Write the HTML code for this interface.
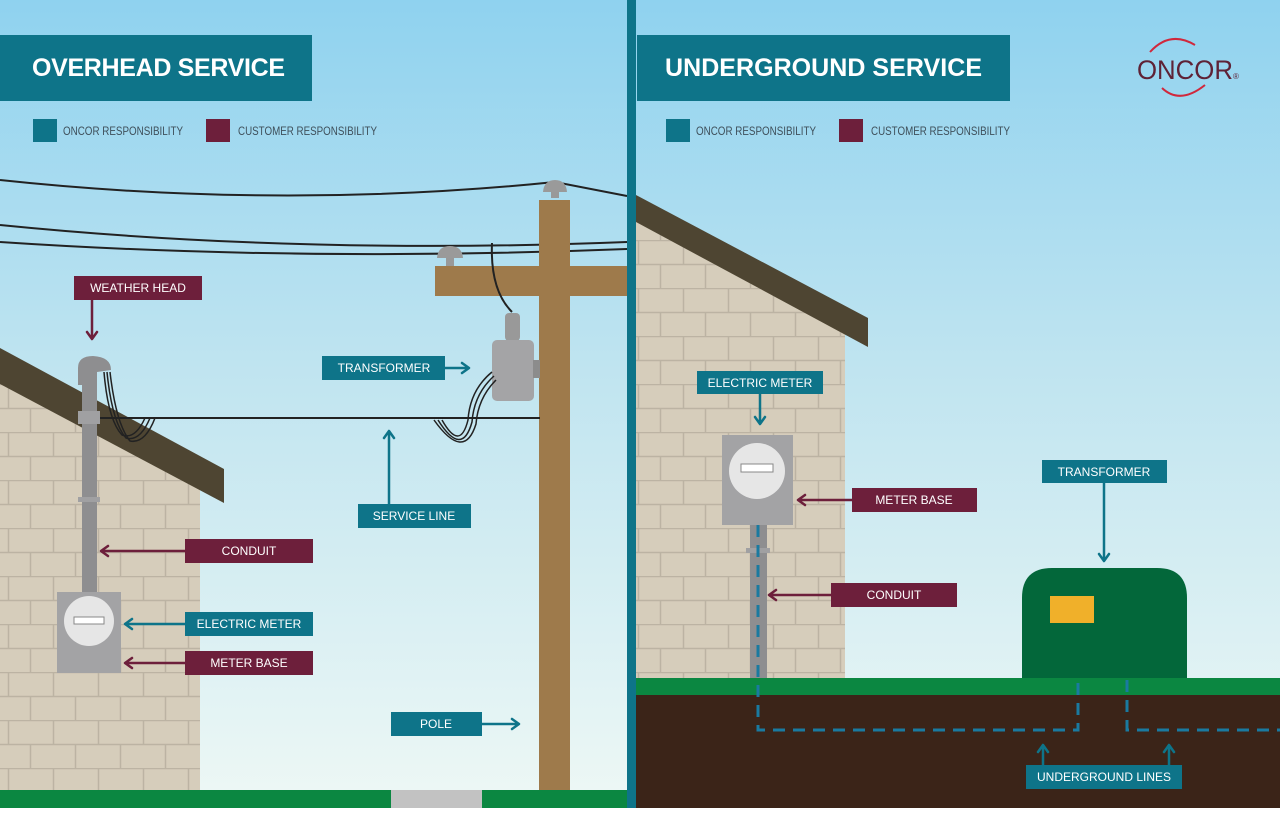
<!DOCTYPE html>
<html><head><meta charset="utf-8"><style>
html,body{margin:0;padding:0;background:#fff}
svg{display:block}
text{font-family:"Liberation Sans",sans-serif}
</style></head><body>
<svg width="1280" height="814" viewBox="0 0 1280 814" xmlns="http://www.w3.org/2000/svg">
<defs>
<linearGradient id="sky" x1="0" y1="0" x2="0" y2="1">
<stop offset="0" stop-color="#8fd2ef"/><stop offset="0.45" stop-color="#bfe4f0"/><stop offset="1" stop-color="#eef8f5"/>
</linearGradient>
<pattern id="brick" width="90" height="48" patternUnits="userSpaceOnUse" x="0" y="0">
<rect width="90" height="48" fill="#d6cdbb"/>
<path d="M0 0.5H90M0 24.5H90M8.5 0V24M53.5 0V24M30.5 24V48M75.5 24V48" stroke="#bcb3a3" stroke-width="1.5" fill="none"/>
</pattern>
</defs>
<rect width="1280" height="814" fill="#fff"/>
<rect width="1280" height="808" fill="url(#sky)"/>

<!-- LEFT -->
<polygon points="0,380 200,488 200,790 0,790" fill="url(#brick)"/>
<polygon points="0,348 224,469 224,503 0,384" fill="#4e4532"/>
<!-- wires -->
<path d="M0 180 Q280 210 555 182 L627 196" stroke="#222" stroke-width="2" fill="none"/>
<path d="M0 225 Q300 255 627 242" stroke="#222" stroke-width="2" fill="none"/>
<path d="M0 242 Q300 262 627 249" stroke="#222" stroke-width="2" fill="none"/>
<!-- pole -->
<rect x="539" y="200" width="31" height="590" fill="#9e7a4b"/>
<rect x="435" y="266" width="192" height="30" fill="#9e7a4b"/>
<rect x="551" y="186" width="8" height="12" fill="#999"/>
<path d="M543 192 Q544 180 555 180 Q566 180 567 192Z" fill="#9a9a9a"/>
<rect x="446" y="254" width="8" height="12" fill="#999"/>
<path d="M437 258 Q438 246 450 246 Q462 246 463 258Z" fill="#9a9a9a"/>
<path d="M492 243 Q490 290 512 312" stroke="#222" stroke-width="2" fill="none"/>
<rect x="505" y="313" width="15" height="28" rx="4" fill="#999"/>
<rect x="492" y="340" width="42" height="61" rx="5" fill="#a4a4a6"/>
<rect x="533" y="360" width="7" height="18" fill="#8c8c8c"/>
<!-- service line -->
<line x1="100" y1="418" x2="540" y2="418" stroke="#222" stroke-width="2"/>
<path d="M492 372 Q470 390 468 420 Q460 452 442 420" stroke="#222" stroke-width="1.5" fill="none"/>
<path d="M494 376 Q474 394 472 422 Q462 458 438 420" stroke="#222" stroke-width="1.5" fill="none"/>
<path d="M496 380 Q478 398 476 424 Q464 462 434 420" stroke="#222" stroke-width="1.5" fill="none"/>
<!-- conduit -->
<rect x="82" y="370" width="15" height="222" fill="#8e8e90"/>
<path d="M78 385 L78 368 Q78 356 93 356 Q111 357 111 370 L97 372 L97 385Z" fill="#8e8e90"/>
<rect x="78" y="411" width="22" height="13" fill="#a0a0a2"/>
<rect x="78" y="497" width="22" height="5" fill="#a0a0a2"/>
<path d="M104 372 Q108 420 122 435 Q135 440 145 418" stroke="#222" stroke-width="1.5" fill="none"/>
<path d="M107 372 Q112 422 126 438 Q140 442 150 418" stroke="#222" stroke-width="1.5" fill="none"/>
<path d="M110 372 Q116 424 130 441 Q145 444 155 418" stroke="#222" stroke-width="1.5" fill="none"/>
<rect x="57" y="592" width="64" height="81" fill="#a3a3a5"/>
<circle cx="89" cy="621" r="25" fill="#e6e6e6"/>
<rect x="74" y="617" width="30" height="7" fill="#fff" stroke="#888"/>
<!-- ground -->
<rect x="0" y="790" width="628" height="18" fill="#0b8741"/>
<rect x="391" y="790" width="91" height="18" fill="#c2c2c2"/>

<!-- header left -->
<rect x="0" y="35" width="312" height="66" fill="#0e7489"/>
<text x="32" y="76" font-size="25" font-weight="bold" fill="#fff" textLength="253">OVERHEAD SERVICE</text>
<rect x="33" y="119" width="24" height="23" fill="#0e7489"/>
<text x="63" y="135" font-size="12" fill="#3e4f5a" textLength="120" lengthAdjust="spacingAndGlyphs">ONCOR RESPONSIBILITY</text>
<rect x="206" y="119" width="24" height="23" fill="#6d1f3b"/>
<text x="238" y="135" font-size="12" fill="#3e4f5a" textLength="139" lengthAdjust="spacingAndGlyphs">CUSTOMER RESPONSIBILITY</text>

<!-- divider -->
<rect x="627" y="0" width="9" height="808" fill="#0e7489"/>

<!-- RIGHT -->
<polygon points="636,218 845,330 845,678 636,678" fill="url(#brick)"/>
<polygon points="636,195 868,318 868,347 636,222" fill="#4e4532"/>
<rect x="750" y="525" width="17" height="153" fill="#8e8e90"/>
<rect x="746" y="548" width="24" height="5" fill="#a0a0a2"/>
<rect x="722" y="435" width="71" height="90" fill="#a3a3a5"/>
<circle cx="757" cy="471" r="28" fill="#e6e6e6"/>
<rect x="741" y="464" width="32" height="8" fill="#fff" stroke="#888"/>
<path d="M1022 678 V598 Q1022 568 1052 568 H1157 Q1187 568 1187 598 V678Z" fill="#03673a"/>
<rect x="1050" y="596" width="44" height="27" fill="#f0b02a"/>
<rect x="636" y="678" width="644" height="17" fill="#0b8741"/>
<rect x="636" y="695" width="644" height="113" fill="#3b2418"/>
<path d="M758 525 V730 H1078 V680 M1127 680 V730 H1280" stroke="#1a7aa0" stroke-width="3" stroke-dasharray="12,8" fill="none"/>

<!-- header right -->
<rect x="637" y="35" width="373" height="66" fill="#0e7489"/>
<text x="665" y="76" font-size="25" font-weight="bold" fill="#fff" textLength="317">UNDERGROUND SERVICE</text>
<rect x="666" y="119" width="24" height="23" fill="#0e7489"/>
<text x="696" y="135" font-size="12" fill="#3e4f5a" textLength="120" lengthAdjust="spacingAndGlyphs">ONCOR RESPONSIBILITY</text>
<rect x="839" y="119" width="24" height="23" fill="#6d1f3b"/>
<text x="871" y="135" font-size="12" fill="#3e4f5a" textLength="139" lengthAdjust="spacingAndGlyphs">CUSTOMER RESPONSIBILITY</text>

<!-- logo -->
<path d="M1195 45 Q1170 30 1150 52" stroke="#d0283c" stroke-width="2" fill="none"/>
<path d="M1162 88 Q1180 105 1205 85" stroke="#d0283c" stroke-width="2" fill="none"/>
<text x="1137" y="79" font-size="27" fill="#5e2236" textLength="96" lengthAdjust="spacingAndGlyphs">ONCOR</text>
<text x="1233" y="79" font-size="8" fill="#5e2236">®</text>

<!-- labels -->
<g font-size="12" fill="#fff" text-anchor="middle">
<rect x="74" y="276" width="128" height="24" fill="#6d1f3b"/><text x="138" y="292">WEATHER HEAD</text>
<rect x="185" y="539" width="128" height="24" fill="#6d1f3b"/><text x="249" y="555">CONDUIT</text>
<rect x="185" y="612" width="128" height="24" fill="#0e7489"/><text x="249" y="628">ELECTRIC METER</text>
<rect x="185" y="651" width="128" height="24" fill="#6d1f3b"/><text x="249" y="667">METER BASE</text>
<rect x="322" y="356" width="123" height="24" fill="#0e7489"/><text x="384" y="372">TRANSFORMER</text>
<rect x="358" y="504" width="113" height="24" fill="#0e7489"/><text x="414" y="520">SERVICE LINE</text>
<rect x="391" y="712" width="91" height="24" fill="#0e7489"/><text x="436" y="728">POLE</text>
<rect x="697" y="371" width="126" height="23" fill="#0e7489"/><text x="760" y="387">ELECTRIC METER</text>
<rect x="852" y="488" width="125" height="24" fill="#6d1f3b"/><text x="914" y="504">METER BASE</text>
<rect x="831" y="583" width="126" height="24" fill="#6d1f3b"/><text x="894" y="599">CONDUIT</text>
<rect x="1042" y="460" width="125" height="23" fill="#0e7489"/><text x="1104" y="476">TRANSFORMER</text>
<rect x="1026" y="765" width="156" height="24" fill="#0e7489"/><text x="1104" y="781">UNDERGROUND LINES</text>
</g>
<!-- arrows -->
<g stroke-width="2.5" fill="none" stroke-linecap="round" stroke-linejoin="round">
<g stroke="#6d1f3b">
<path d="M92 300 V338 M87 332 L92 339 L97 332"/>
<path d="M185 551 H102 M108 546 L101 551 L108 556"/>
<path d="M185 663 H126 M132 658 L125 663 L132 668"/>
<path d="M852 500 H799 M805 495 L798 500 L805 505"/>
<path d="M831 595 H770 M776 590 L769 595 L776 600"/>
</g>
<g stroke="#0e7489">
<path d="M185 624 H126 M132 619 L125 624 L132 629"/>
<path d="M445 368 H468 M462 363 L469 368 L462 373"/>
<path d="M389 504 V432 M384 438 L389 431 L394 438"/>
<path d="M482 724 H518 M512 719 L519 724 L512 729"/>
<path d="M760 394 V423 M755 417 L760 424 L765 417"/>
<path d="M1104 483 V560 M1099 554 L1104 561 L1109 554"/>
<path d="M1043 765 V746 M1038 752 L1043 745 L1048 752"/>
<path d="M1169 765 V746 M1164 752 L1169 745 L1174 752"/>
</g>
</g>
</svg>
</body></html>
